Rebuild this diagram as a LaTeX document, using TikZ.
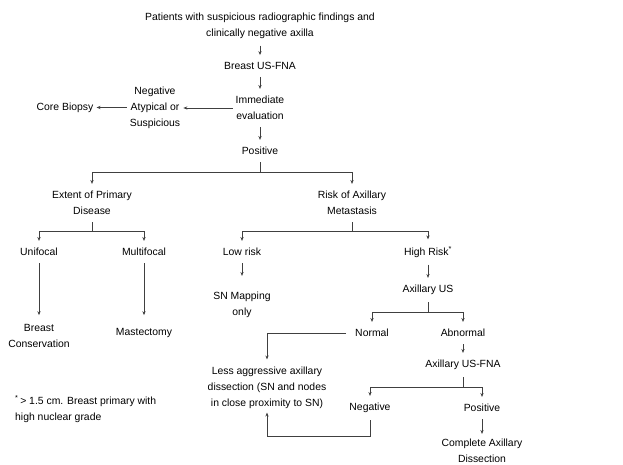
\documentclass[tikz,border=0pt]{standalone}
\usepackage{fontspec}
\setmainfont{Liberation Sans}
\usetikzlibrary{arrows.meta}
\definecolor{flowline}{HTML}{404040}

\begin{document}
\begin{tikzpicture}[x=1pt, y=-1pt,
    box/.style={align=center, inner xsep=3pt, inner ysep=7pt, font=\fontsize{10.4}{16}\selectfont},
    link/.style={draw=flowline, line width=0.7pt},
    arr/.style={link, -{Stealth[length=4pt, width=3.2pt]}}]
    \useasboundingbox (0,0) rectangle (623,465);

    % Referral and first work-up
    \node[box] (pat) at (260,25.5) {Patients with suspicious radiographic findings and\\clinically negative axilla};
    \node[box] (bus) at (260,66) {Breast US-FNA};
    \node[box] (imm) at (260,108) {Immediate\\evaluation};
    \node[box] (neg) at (155,107.5) {Negative\\Atypical or\\Suspicious};
    \node[box] (core) at (65,107.5) {Core Biopsy};
    \node[box] (pos) at (260,151) {Positive};

    \draw[arr] (pat) -- (bus);
    \draw[arr] (bus) -- (imm);
    \draw[arr] (imm) -- (pos);
    \draw[arr] (imm.west) -- (neg.east |- imm.west);
    \draw[arr] (neg.west |- core.east) -- (core.east);

    % Two branches
    \node[box] (ext) at (92,203) {Extent of Primary\\Disease};
    \node[box] (risk) at (352,203) {Risk of Axillary\\Metastasis};
    \draw[link] (pos.south) -- ++(0,10) coordinate (jpos);
    \draw[arr] (jpos) -| (ext.north);
    \draw[arr] (jpos) -| (risk.north);

    % Extent of primary disease
    \node[box] (uni) at (39,252) {Unifocal};
    \node[box] (multi) at (144,252) {Multifocal};
    \node[box] (bc) at (39,336) {Breast\\Conservation};
    \node[box] (mast) at (144,333) {Mastectomy};
    \draw[link] (ext.south) -- ++(0,9) coordinate (jext);
    \draw[arr] (jext) -| (uni.north);
    \draw[arr] (jext) -| (multi.north);
    \draw[arr, shorten >=2pt] (uni) -- (bc);
    \draw[arr, shorten >=6pt] (multi) -- (mast);

    % Risk of axillary metastasis
    \node[box] (low) at (242,252) {Low risk};
    \node[box] (high) at (428,252) {High Risk\textsuperscript{*}};
    \node[box] (snm) at (242,305) {SN Mapping\\only};
    \node[box] (axus) at (428,290) {Axillary US};
    \draw[link] (risk.south) -- ++(0,9) coordinate (jrisk);
    \draw[arr] (jrisk) -| (low.north);
    \draw[arr] (jrisk) -| (high.north);
    \draw[arr, shorten >=9pt] (low) -- (snm);
    \draw[arr] (high) -- (axus);

    % Axillary ultrasound findings
    \node[box] (norm) at (372,333) {Normal};
    \node[box] (abn) at (463,333) {Abnormal};
    \node[box] (less) at (267,387.5) {Less aggressive axillary\\dissection (SN and nodes\\in close proximity to SN)};
    \node[box] (axfna) at (463,365) {Axillary US-FNA};
    \draw[link] (axus.south) -- ++(0,10) coordinate (jaxus);
    \draw[arr] (jaxus) -| (norm.north);
    \draw[arr] (jaxus) -| (abn.north);
    \draw[arr, shorten <=6pt] (norm.west) -| (less.north);
    \draw[arr] (abn) -- (axfna);

    % Axillary US-FNA results
    \node[box] (negb) at (370,408) {Negative};
    \node[box] (posb) at (482,408) {Positive};
    \node[box] (comp) at (482,451) {Complete Axillary\\Dissection};
    \draw[link] (axfna.south) -- ++(0,10) coordinate (jfna);
    \draw[arr] (jfna) -| (negb.north);
    \draw[arr] (jfna) -| (posb.north);
    \draw[arr, shorten >=-3pt] (negb.south) -- ++(0,16) -| (less.south);
    \draw[arr, shorten >=-2pt] (posb) -- (comp);

    % Footnote
    \node[box, align=left, anchor=west] (note) at (12,409) {\textsuperscript{*}\,> 1.5 cm. Breast primary with\\high nuclear grade};
\end{tikzpicture}
\end{document}
